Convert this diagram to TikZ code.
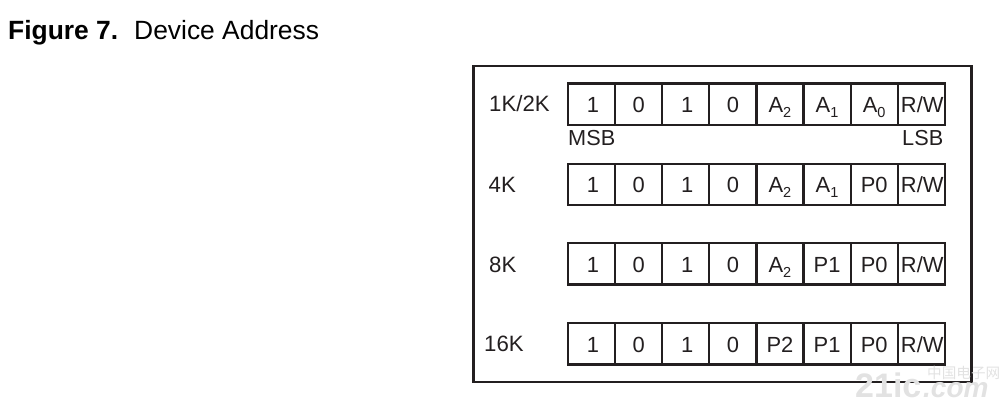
\documentclass[tikz,border=0pt]{standalone}
\usepackage{fontspec}
\setmainfont{Liberation Sans}
\newfontfamily\cjkmark{Noto Sans CJK SC}
\newcommand\lowsub[1]{\raisebox{-4.5pt}{\fontsize{14.5}{14.5}\selectfont #1}}
\definecolor{ink}{HTML}{231F20}
\definecolor{markgray}{HTML}{E2E2E2}
\tikzset{
  x=1pt,y=-1pt,
  bitcell/.style={draw=ink,line width=2.2pt,outer sep=0pt,minimum width=47.1pt,minimum height=41.2pt,inner sep=0pt,anchor=north west,
    text=ink,font=\fontsize{21.9}{22}\selectfont,text height=17.4pt,text depth=0pt,align=center},
  rowlabel/.style={anchor=base west,inner sep=0pt,text=ink,font=\fontsize{22.2}{22}\selectfont},
  frame/.style={draw=ink,line width=2.2pt,outer sep=0pt,minimum width=498pt,minimum height=316pt,inner sep=0pt,anchor=north west},
  titletext/.style={anchor=base west,inner sep=0pt,text=black,font=\fontsize{26.4}{28}\selectfont},
  markbig/.style={anchor=base west,inner sep=0pt,text=markgray,font=\bfseries\fontsize{34}{34}\selectfont},
  marksmall/.style={anchor=base west,inner sep=0pt,text=markgray,font=\cjkmark\fontsize{14.6}{15}\selectfont},
}
\newcommand\bitrow[5]{%
  \node[bitcell] (#1a) at (568,#2) {\hspace*{3pt}1};
  \node[bitcell] (#1b) at (615.1,#2) {0};
  \node[bitcell] (#1c) at (662.2,#2) {\hspace*{3pt}1};
  \node[bitcell] (#1d) at (709.3,#2) {0};
  \node[bitcell] (#1e) at (756.4,#2) {#3};
  \node[bitcell] (#1f) at (803.5,#2) {#4};
  \node[bitcell] (#1g) at (850.6,#2) {#5};
  \node[bitcell] (#1h) at (897.7,#2) {\hspace*{2pt}R/W};
}
\begin{document}
\begin{tikzpicture}
\useasboundingbox (0,0) rectangle (1008,408);
\node[titletext] (title) at (8,39) {\textbf{Figure 7.}\hspace{16pt}Device Address};
\node[frame] (outer) at (473.4,65.7) {};
\bitrow{p}{83.4}{A\lowsub{2}}{A\lowsub{1}}{A\lowsub{0}}
\bitrow{q}{163.6}{A\lowsub{2}}{A\lowsub{1}}{P0}
\bitrow{r}{243.2}{A\lowsub{2}}{P1}{P0}
\bitrow{s}{323.2}{P2}{P1}{P0}
\node[rowlabel] (l1) at (489,111.7) {1K/2K};
\node[rowlabel] (l2) at (488.5,192) {4K};
\node[rowlabel] (l3) at (489,272) {8K};
\node[rowlabel] (l4) at (484,351) {16K};
\node[rowlabel,font=\fontsize{21.7}{22}\selectfont] (msb) at (568,145.7) {MSB};
\node[rowlabel,font=\fontsize{21.7}{22}\selectfont] (lsb) at (902,145.7) {LSB};
\node[markbig] (m1) at (855,397) {21ic};
\node[markbig,font=\bfseries\itshape\fontsize{28}{28}\selectfont] (m2) at (923,397) {.com};
\node[marksmall] (m3) at (927,378) {中国电子网};
\end{tikzpicture}
\end{document}
